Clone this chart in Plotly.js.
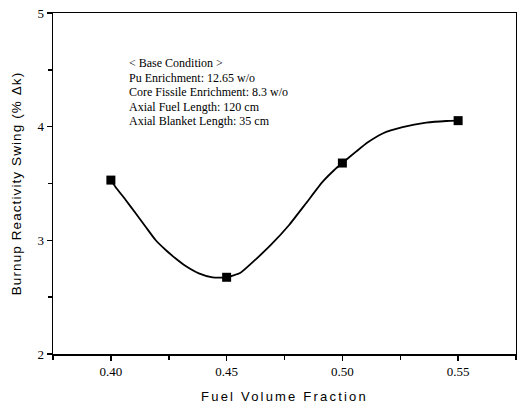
<!DOCTYPE html>
<html><head><meta charset="utf-8">
<script src="https://cdn.plot.ly/plotly-3.0.1.min.js"></script>
<style>
html,body{margin:0;padding:0;background:#fff;}
#chart{width:517px;height:411px;}
.xtitle{letter-spacing:2.2px;}
.ytitle{letter-spacing:1.1px;}
</style></head>
<body><div id="chart"></div>
<script>
// Data markers
const markerX = [0.40, 0.45, 0.50, 0.55];
const markerY = [3.53, 2.675, 3.68, 4.053];
// Curve
const curveX = [0.400, 0.402, 0.4064, 0.4107, 0.415, 0.4193, 0.4237, 0.428, 0.4323, 0.438, 0.4439, 0.45, 0.456, 0.4626, 0.4691, 0.477, 0.4843, 0.4915, 0.4965, 0.50, 0.5059, 0.511, 0.5174, 0.526, 0.5362, 0.5449, 0.55];
const curveY = [3.53, 3.47, 3.355, 3.238, 3.12, 3.003, 2.915, 2.84, 2.774, 2.71, 2.675, 2.675, 2.715, 2.833, 2.959, 3.135, 3.326, 3.516, 3.619, 3.68, 3.78, 3.862, 3.94, 3.995, 4.035, 4.05, 4.053];
const xTicks = [0.40, 0.45, 0.50, 0.55];
const xTickText = ["0.40", "0.45", "0.50", "0.55"];
const yTicks = [2, 3, 4, 5];
const noteLines = ["&lt; Base Condition &gt;", "Pu Enrichment: 12.65 w/o", "Core Fissile Enrichment: 8.3 w/o", "Axial Fuel Length: 120 cm", "Axial Blanket Length: 35 cm"];

const traces = [
  {x: curveX, y: curveY, mode: 'lines', line: {color: '#000', width: 1.8, shape: 'spline', smoothing: 0.5}, hoverinfo: 'skip', showlegend: false},
  {x: markerX, y: markerY, mode: 'markers', marker: {symbol: 'square', size: 9, color: '#000'}, showlegend: false}
];

const annotations = noteLines.map((t, i) => ({
  xref: 'paper', yref: 'paper', x: (128 - 53) / 463, y: 1 - (63 + i * 14.6 - 13) / 341,
  xanchor: 'left', yanchor: 'middle', text: t, showarrow: false, borderpad: 0,
  font: {family: 'Liberation Serif, Times New Roman, serif', size: 12, color: '#000'}
}));

const layout = {
  width: 517, height: 411,
  margin: {l: 53, r: 1, t: 13, b: 57},
  paper_bgcolor: '#fff', plot_bgcolor: '#fff',
  xaxis: {
    range: [0.375, 0.575], tickvals: xTicks, ticktext: xTickText,
    ticks: 'outside', ticklen: 5, tickwidth: 1.5, tickcolor: '#000',
    minor: {dtick: 0.025, tick0: 0.375, ticks: 'outside', ticklen: 4, tickwidth: 1.5, tickcolor: '#000'},
    showline: true, linecolor: '#000', linewidth: 1.5, mirror: true,
    showgrid: false, zeroline: false,
    tickfont: {family: 'Liberation Serif, Times New Roman, serif', size: 13, color: '#000'},
    title: {text: 'Fuel Volume Fraction', font: {family: 'Liberation Sans, Arial, sans-serif', size: 13, color: '#000'}, standoff: 14}
  },
  yaxis: {
    range: [2, 5], tickvals: yTicks,
    ticks: 'outside', ticklen: 5, tickwidth: 1.5, tickcolor: '#000',
    minor: {dtick: 0.5, ticks: 'outside', ticklen: 4, tickwidth: 1.5, tickcolor: '#000'},
    showline: true, linecolor: '#000', linewidth: 1.5, mirror: true,
    showgrid: false, zeroline: false,
    tickfont: {family: 'Liberation Serif, Times New Roman, serif', size: 13, color: '#000'},
    title: {text: 'Burnup Reactivity Swing (% Δk)', font: {family: 'Liberation Sans, Arial, sans-serif', size: 13.5, color: '#000'}, standoff: 12}
  },
  annotations: annotations
};

Plotly.newPlot('chart', traces, layout, {displayModeBar: false, staticPlot: true});
</script></body></html>
